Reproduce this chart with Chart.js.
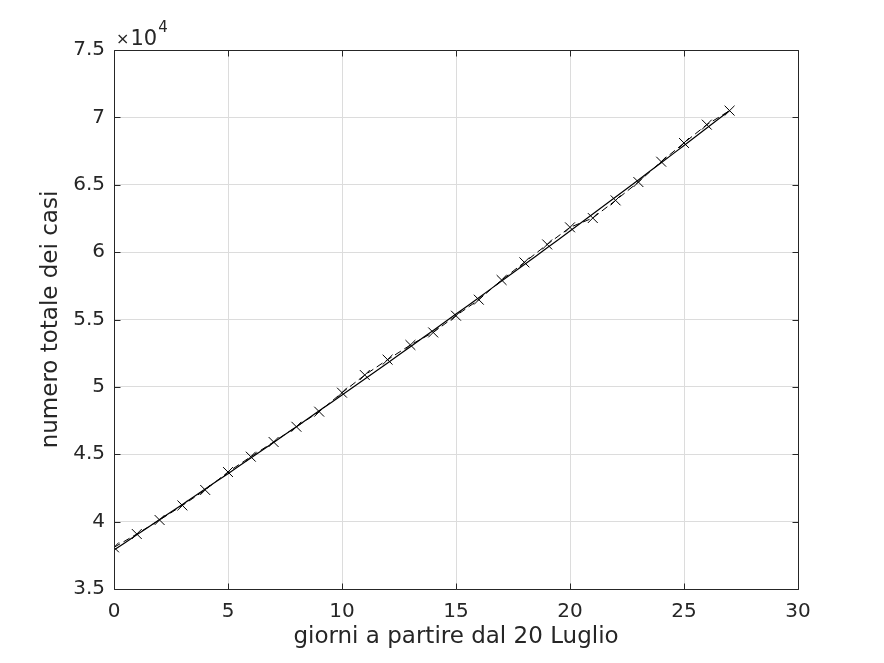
<!DOCTYPE html>
<html><head><meta charset="utf-8">
<script src="https://cdn.jsdelivr.net/npm/chart.js@4"></script>
<style>html,body{margin:0;padding:0;background:#fff}#wrap{width:884px;height:663px}</style>
</head><body><div id="wrap"><canvas id="c" width="884" height="663"></canvas></div>
<script>
const days = [0,1,2,3,4,5,6,7,8,9,10,11,12,13,14,15,16,17,18,19,20,21,22,23,24,25,26,27];
const totalCases = [38090,39080,40120,41200,42350,43680,44820,45910,47040,48160,49570,50880,52020,53110,54040,55280,56470,57930,59240,60570,61840,62530,63840,65200,66710,68100,69460,70500];
const fitCases = [37900,39020,40150,41280,42420,43560,44720,45880,47040,48220,49400,50580,51780,52980,54190,55400,56620,57850,59080,60320,61570,62830,64090,65360,66630,67920,69210,70500];
const xTicks = [0,5,10,15,20,25,30];
const yTicks = [35000,40000,45000,50000,55000,60000,65000,70000,75000];
const xTitle = 'giorni a partire dal 20 Luglio';
const yTitle = 'numero totale dei casi';
const exponentLabel = ['×','10','4'];

const FONT = 'DejaVu Sans';
const TXT = '#262626';

const boxPlugin = {
  id:'box',
  afterDatasetsDraw(chart){
    const {ctx, chartArea:a, scales:{x,y}} = chart;
    ctx.save();
    ctx.strokeStyle = TXT; ctx.lineWidth = 1;
    ctx.beginPath();
    const L=Math.round(a.left)+0.5, R=Math.round(a.right)+0.5, T=Math.round(a.top)+0.5, B=Math.round(a.bottom)+0.5;
    ctx.rect(L,T,R-L,B-T);
    const tl=6;
    xTicks.forEach(v=>{const px=Math.round(x.getPixelForValue(v))+0.5;ctx.moveTo(px,B);ctx.lineTo(px,B-tl);ctx.moveTo(px,T);ctx.lineTo(px,T+tl);});
    yTicks.forEach(v=>{const py=Math.round(y.getPixelForValue(v))+0.5;ctx.moveTo(L,py);ctx.lineTo(L+tl,py);ctx.moveTo(R,py);ctx.lineTo(R-tl,py);});
    ctx.stroke();
    ctx.fillStyle = TXT;
    ctx.textBaseline='alphabetic';
    ctx.font = '16px '+FONT;
    ctx.fillText(exponentLabel[0], a.left+2, a.top-6);
    const w0 = ctx.measureText(exponentLabel[0]).width;
    ctx.font = '21px '+FONT;
    ctx.fillText(exponentLabel[1], a.left+3+w0, a.top-5);
    const w1 = ctx.measureText(exponentLabel[1]).width;
    ctx.font = '15px '+FONT;
    ctx.fillText(exponentLabel[2], a.left+4+w0+w1, a.top-18);
    ctx.restore();
  }
};

new Chart(document.getElementById('c'), {
  type:'line',
  data:{datasets:[
    {label:'fit', data:days.map((d,i)=>({x:d,y:fitCases[i]})), borderColor:'#000', borderWidth:1.2, pointRadius:0, tension:0.3, fill:false},
    {label:'dati', data:days.map((d,i)=>({x:d,y:totalCases[i]})), borderColor:'#000', borderWidth:1, borderDash:[7,4], pointStyle:'crossRot', pointRadius:7, pointBorderColor:'#000', pointBorderWidth:1, fill:false, tension:0}
  ]},
  options:{
    responsive:false, animation:false, devicePixelRatio:1,
    layout:{padding:{left:37,top:50,right:86,bottom:12}},
    plugins:{legend:{display:false},tooltip:{enabled:false}},
    scales:{
      x:{type:'linear',min:0,max:30,
        afterBuildTicks(s){s.ticks=xTicks.map(v=>({value:v}));},
        afterFit(s){s.height=62;},
        grid:{color:'#dcdcdc',drawTicks:false},
        border:{display:false},
        ticks:{color:TXT,font:{family:FONT,size:20},padding:11,maxRotation:0},
        title:{display:true,text:xTitle,color:TXT,font:{family:FONT,size:23},padding:{top:0,bottom:0}}
      },
      y:{type:'linear',min:35000,max:75000,
        afterBuildTicks(s){s.ticks=yTicks.map(v=>({value:v}));},
        afterFit(s){s.width=77;},
        grid:{color:'#dcdcdc',drawTicks:false},
        border:{display:false},
        ticks:{color:TXT,font:{family:FONT,size:20},padding:9,callback:v=>String(v/10000)},
        title:{display:true,text:yTitle,color:TXT,font:{family:FONT,size:23},padding:{top:0,bottom:0}}
      }
    }
  },
  plugins:[boxPlugin]
});
</script></body></html>
